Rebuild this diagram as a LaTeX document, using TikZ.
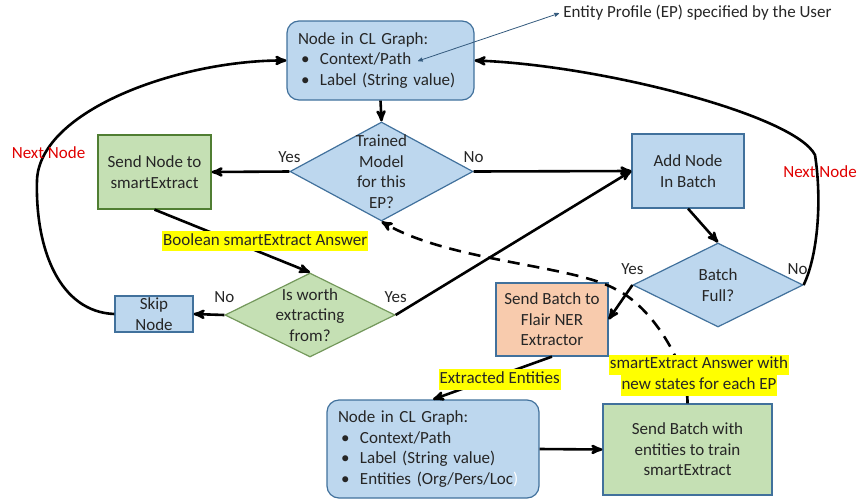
\documentclass[tikz,border=0pt]{standalone}
\usepackage{fontspec}
\setmainfont{Carlito}
\usetikzlibrary{arrows,shapes.geometric}
\definecolor{boxblue}{HTML}{BDD7EE}
\definecolor{lineblue}{HTML}{41719C}
\definecolor{boxgreen}{HTML}{C5E0B4}
\definecolor{linegreen}{HTML}{507E32}
\definecolor{boxorange}{HTML}{F8CBAD}
\definecolor{nextred}{HTML}{E00000}
\definecolor{hlyellow}{HTML}{FFFF00}
\definecolor{textgray}{HTML}{262626}
\newcommand{\hlt}[1]{{\setlength{\fboxsep}{0pt}\colorbox{hlyellow}{\strut\hspace{1pt}#1\hspace{1pt}}}}
\newcommand{\bul}{\hspace*{3pt}\makebox[19pt][l]{\textbullet}}

\begin{document}
\begin{tikzpicture}[->,>=stealth',x=1pt,y=-1pt,line width=2.6pt,
  every node/.style={font=\fontsize{17}{20.5}\selectfont,text=textgray},
  cl node/.style={rectangle,rounded corners=12pt,draw=lineblue,fill=boxblue,line width=1.2pt,align=left,inner xsep=11pt},
  blue box/.style={rectangle,draw=lineblue,fill=boxblue,line width=1.2pt,align=center,inner sep=0pt},
  green box/.style={blue box,draw=linegreen,fill=boxgreen},
  orange box/.style={blue box,fill=boxorange},
  decision/.style={diamond,draw=lineblue,fill=boxblue,line width=1.2pt,inner sep=0pt},
  green decision/.style={decision,draw=linegreen!80,fill=boxgreen},
  yesno/.style={above=4pt},
  next node/.style={text=nextred},
  answer/.style={inner sep=0pt,align=center}]
  \useasboundingbox (0,0) rectangle (858,501);

  \node[cl node,text width=165pt,minimum height=79pt] (clnode) at (380.5,60.5) {Node in CL Graph:\\\bul Context/Path\\\bul Label (String value)};
  \node[inner sep=2pt,anchor=west] (profile) at (560,13) {Entity Profile (EP) specified by the User};
  \coordinate (cppoint) at (418,61);

  \node[decision,minimum width=183pt,minimum height=99pt,label={[align=center]center:{Trained\\Model\\for this\\EP?}}] (trained) at (381.5,171.5) {};
  \node[green box,minimum width=113pt,minimum height=74pt] (sendnode) at (154.5,172) {Send Node to\\smartExtract};
  \node[green decision,minimum width=170pt,minimum height=84pt,label={[align=center]center:{Is worth\\extracting\\from?}}] (worth) at (310,315) {};
  \node[blue box,minimum width=78pt,minimum height=36pt] (skip) at (154,314) {Skip\\Node};
  \node[blue box,minimum width=112pt,minimum height=74pt] (addnode) at (688,171) {Add Node\\In Batch};
  \node[decision,minimum width=170pt,minimum height=84pt,label={[align=center]center:{Batch\\Full?}}] (full) at (718,285) {};
  \node[orange box,minimum width=112pt,minimum height=73pt] (flair) at (552,319.5) {Send Batch to\\Flair NER\\Extractor};
  \node[cl node,text width=190pt,minimum height=98pt] (clentities) at (433,449) {Node in CL Graph:\\\bul Context/Path\\\bul Label (String value)\\\bul Entities (Org/Pers/Loc\textcolor{white}{)}};
  \node[green box,draw=lineblue,minimum width=169pt,minimum height=91pt] (train) at (687.5,449.5) {Send Batch with\\entities to train\\smartExtract};

  % flow
  \draw (clnode.south) -- (trained.north);
  \draw (trained.west) -- node[at start,yesno] {Yes} (sendnode.east);
  \draw (trained.east) -- node[at start,yesno] {No} (addnode.west);
  \draw (sendnode.south) -- node[pos=0.5,answer,xshift=33pt] {\hlt{Boolean smartExtract Answer}} (worth.north);
  \draw (worth.west) -- node[at start,above=8pt] {No} (skip.east);
  \draw (worth.east) -- node[at start,above=8pt] {Yes} (addnode.west);
  \draw (addnode.south) -- (full.north);
  \draw (full.west) -- node[at start,above=6pt] {Yes} (flair.east);
  \draw (full.east) node[above=6pt,xshift=-6pt] {No} .. controls (818,255) and (822,200) .. (815,155) .. controls (795,115) and (600,65) .. (clnode.east);
  \draw (skip.west) .. controls (60,312) and (35,250) .. (37,180) .. controls (40,110) and (180,60) .. (clnode.west);
  \draw (flair.south) -- node[pos=0.44,answer,yshift=-4pt] {\hlt{Extracted Entities}} (clentities.north);
  \draw (clentities.east) -- (train.west);
  \draw[dash pattern=on 12pt off 8pt] (train.north) .. controls (688,365) and (652,307) .. (617,290) .. controls (575,265) and (450,262) .. (trained.south);
  \draw[<->,line width=0.8pt,draw=lineblue!80!black,shorten >=1pt] (cppoint) -- (profile.west);

  % labels
  \node[answer] (newstates) at (699,375) {\hlt{smartExtract Answer with}\\\hlt{new states for each EP}};
  \node[next node] (nextleft) at (48.5,153) {Next Node};
  \node[next node] (nextright) at (820,172) {Next Node};
\end{tikzpicture}
\end{document}
